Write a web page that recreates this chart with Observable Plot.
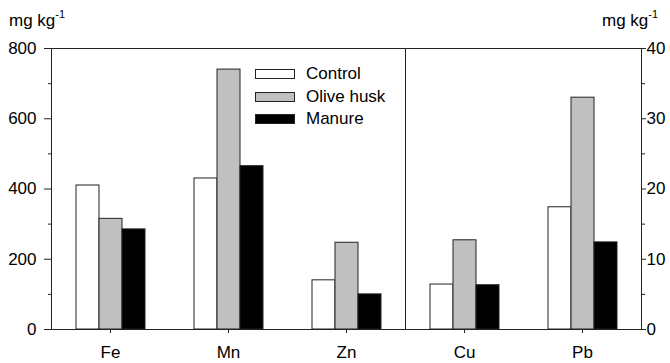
<!DOCTYPE html>
<html>
<head>
<meta charset="utf-8">
<script src="https://cdn.jsdelivr.net/npm/d3@7"></script>
<script src="https://cdn.jsdelivr.net/npm/@observablehq/plot@0.6"></script>
<style>
  body { margin: 0; background: white; font-family: "Liberation Sans", Arial, sans-serif; }
  #wrap { position: relative; width: 670px; height: 363px; }
  .unit { position: absolute; font-size: 17px; color: black; white-space: nowrap; line-height: 1; }
  .unit sup { font-size: 11px; vertical-align: 0; position: relative; top: -8px; }
  .legend { position: absolute; left: 255px; top: 63px; font-size: 17px; }
  .legend .row { display: flex; align-items: center; height: 22.5px; }
  .legend .sw { width: 38px; height: 8px; border: 1px solid #222; margin-right: 11px; }
</style>
</head>
<body>
<div id="wrap"></div>
<script>
// ---- data ----
const elements = ["Fe", "Mn", "Zn", "Cu", "Pb"];
const treatments = ["Control", "Olive husk", "Manure"];
const control   = [410, 430, 140, 6.4, 17.4];
const oliveHusk = [315, 740, 247, 12.7, 33];
const manure    = [285, 465, 100, 6.3, 12.4];
const rightAxisElements = ["Cu", "Pb"];          // read on right axis (0–40)
const leftTicks = [0, 200, 400, 600, 800];
const leftMinorTicks = [100, 300, 500, 700];
const rightTicks = [0, 10, 20, 30, 40];
const rightMinorTicks = [5, 15, 25, 35];
const colors = ["white", "#c0c0c0", "black"];

const ratio = 800 / 40; // left-axis units per right-axis unit
const series = [control, oliveHusk, manure];
const table = [];
elements.forEach((el, i) => {
  treatments.forEach((t, j) => {
    const v = series[j][i];
    table.push({element: el, treatment: t, value: v,
                plotted: rightAxisElements.includes(el) ? v * ratio : v});
  });
});

const fs = 17;
const chart = Plot.plot({
  width: 670, height: 363,
  marginLeft: 50, marginRight: 29, marginTop: 48, marginBottom: 34,
  style: {fontFamily: "Liberation Sans, Arial, sans-serif", fontSize: fs + "px", color: "black", background: "white"},
  fx: {domain: elements, padding: 0, axis: null, label: null},
  x: {domain: treatments, paddingInner: 0, paddingOuter: 1, axis: null},
  y: {domain: [0, 800], axis: null, label: null},
  color: {domain: treatments, range: colors},
  marks: [
    Plot.barY(table, {fx: "element", x: "treatment", y: "plotted", fill: "treatment", stroke: "#222", strokeWidth: 1}),
    Plot.ruleY([0, 800], {stroke: "#222"}),
    Plot.frame({anchor: "left", facetAnchor: "left", stroke: "#222"}),
    Plot.frame({anchor: "right", facetAnchor: "right", stroke: "#222"}),
    Plot.frame({anchor: "left", fx: "Cu", stroke: "#222"}),
    Plot.axisY({anchor: "left", label: null, ticks: leftTicks, tickSize: 7, tickPadding: 8, fontSize: fs, stroke: "#222"}),
    Plot.axisY({anchor: "left", label: null, ticks: leftMinorTicks, tickSize: 3, tickFormat: () => "", stroke: "#222"}),
    Plot.axisY({anchor: "right", label: null, ticks: rightTicks.map(d => d * ratio), tickFormat: d => d / ratio, tickSize: 4, tickPadding: 1, fontSize: fs, stroke: "#222"}),
    Plot.axisY({anchor: "right", label: null, ticks: rightMinorTicks.map(d => d * ratio), tickSize: 3, tickFormat: () => "", stroke: "#222"}),
    Plot.axisFx({anchor: "bottom", tickSize: 4, tickPadding: 12, fontSize: fs, label: null, stroke: "#222"})
  ]
});

const wrap = document.getElementById("wrap");
wrap.appendChild(chart);

function unit(left, top) {
  const d = document.createElement("div");
  d.className = "unit";
  d.style.left = left + "px";
  d.style.top = top + "px";
  d.innerHTML = "mg kg<sup>-1</sup>";
  wrap.appendChild(d);
}
unit(9, 12);
unit(602, 12);

const legend = document.createElement("div");
legend.className = "legend";
treatments.forEach((t, j) => {
  const row = document.createElement("div");
  row.className = "row";
  const sw = document.createElement("div");
  sw.className = "sw";
  sw.style.background = colors[j];
  const lab = document.createElement("span");
  lab.textContent = t;
  row.appendChild(sw); row.appendChild(lab);
  legend.appendChild(row);
});
wrap.appendChild(legend);
</script>
</body>
</html>
